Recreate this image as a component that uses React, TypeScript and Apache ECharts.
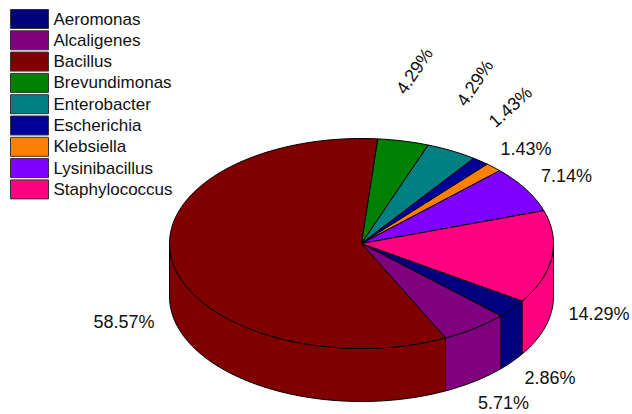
import React, { useEffect, useRef } from "react";
import * as echarts from "echarts";

const genera = ["Aeromonas", "Alcaligenes", "Bacillus", "Brevundimonas", "Enterobacter", "Escherichia", "Klebsiella", "Lysinibacillus", "Staphylococcus"];
const shares = [2.86, 5.71, 58.57, 4.29, 4.29, 1.43, 1.43, 7.14, 14.29];
const colours = ["#000080", "#800080", "#800000", "#008000", "#008080", "#000099", "#ff8000", "#8000ff", "#ff0080"];

// Label centre and rotation (degrees) for each slice's percentage
const labelSpots: [number, number, number][] = [
  [550, 378, 0], [503.5, 403, 0], [124, 322, 0], [414.5, 71, 56], [475, 83, 56],
  [510.5, 107, 42], [526, 149, 0], [566.5, 176, 0], [599, 314, 0],
];

// Tilted disc: centre, radii, wall depth, and where the first slice starts
const CX = 361.5, CY = 243.5, RX = 192, RY = 105, DEPTH = 53, START_DEG = 33.2;
const total = shares.reduce((a, b) => a + b, 0);
const TEXT_FONT = "Liberation Sans";

function rim(a0: number, a1: number, dy: number) {
  const steps = Math.max(2, Math.ceil((a1 - a0) / 1.5));
  const pts: number[][] = [];
  for (let i = 0; i <= steps; i++) {
    const t = ((a0 + ((a1 - a0) * i) / steps) * Math.PI) / 180;
    pts.push([CX + RX * Math.cos(t), CY + RY * Math.sin(t) + dy]);
  }
  return pts;
}

function sliceRenderer(index: number) {
  const before = shares.slice(0, index).reduce((a, b) => a + b, 0);
  return (_params: unknown, api: any) => {
    const color = api.visual("color");
    const a0 = START_DEG + (before / total) * 360;
    const a1 = a0 + (api.value(0) / total) * 360;
    const edge = { fill: color, stroke: "#000", lineWidth: 1, lineJoin: "round" };
    const children: any[] = [];
    // Front-facing wall: the parts of the slice's arc in 0-180 and 360-540 degrees
    for (const [lo, hi] of [[0, 180], [360, 540]]) {
      const w0 = Math.max(a0, lo), w1 = Math.min(a1, hi);
      if (w1 > w0) {
        const points = [...rim(w0, w1, 0), ...rim(w0, w1, DEPTH).reverse()];
        children.push({ type: "polygon", shape: { points }, style: edge });
      }
    }
    children.push({ type: "polygon", shape: { points: [[CX, CY], ...rim(a0, a1, 0)] }, style: edge });
    const [x, y, deg] = labelSpots[index];
    children.push({
      type: "text", x, y, rotation: (deg * Math.PI) / 180,
      style: {
        text: `${api.value(0).toFixed(2)}%`, fill: "#111", fontSize: 18, fontFamily: TEXT_FONT,
        align: "center", verticalAlign: "middle",
      },
    });
    return { type: "group", children };
  };
}

export default function App() {
  const ref = useRef<HTMLDivElement>(null);
  useEffect(() => {
    const chart = echarts.init(ref.current!, undefined, { renderer: "svg" });
    chart.setOption({
      animation: false,
      backgroundColor: "#fff",
      legend: {
        orient: "vertical", left: 10, top: 9, padding: 0, itemWidth: 38, itemHeight: 19, itemGap: 1.3,
        selectedMode: false, data: genera, icon: "rect",
        itemStyle: { borderColor: "#333", borderWidth: 1 },
        textStyle: { fontSize: 17, lineHeight: 19, fontFamily: TEXT_FONT, color: "#111" },
      },
      series: genera.map((name, i) => ({
        type: "custom", name, coordinateSystem: "none", silent: true,
        itemStyle: { color: colours[i] },
        data: [[shares[i]]],
        renderItem: sliceRenderer(i),
      })),
    });
    return () => chart.dispose();
  }, []);
  return <div ref={ref} style={{ position: "fixed", left: 0, top: 0, width: 632, height: 414 }} />;
}
